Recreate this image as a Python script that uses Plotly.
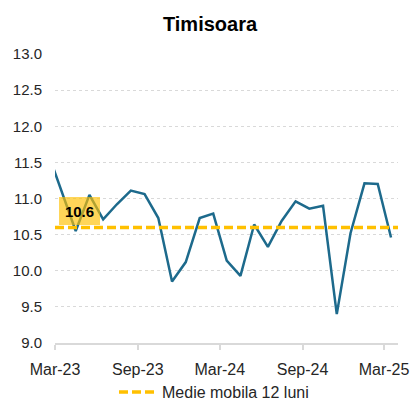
import pandas as pd
import plotly.graph_objects as go

# Monthly values, Feb-23 .. Mar-25
months = pd.period_range("2023-02", "2025-03", freq="M")
values = [11.60, 11.09, 10.55, 11.05, 10.71, 10.92, 11.11, 11.06, 10.73, 9.85,
          10.12, 10.73, 10.79, 10.14, 9.93, 10.64, 10.33, 10.69, 10.96, 10.86,
          10.90, 9.40, 10.52, 11.21, 11.20, 10.46]
ma_value = 10.6
ma_name = "Medie mobila 12 luni"
title = "Timisoara"
x_start, x_end = "2023-03-01", "2025-04-01"
y_ticks = [9.0, 9.5, 10.0, 10.5, 11.0, 11.5, 12.0, 12.5, 13.0]

# plot each month at its middle
starts = months.start_time
ends = months.end_time
mid = starts + (ends - starts) / 2

FONT = "Liberation Sans, Arial, sans-serif"
TEXT = "#262626"
GRID = "#D9D9D9"
BLUE = "#1D6A8C"
GOLD = "#FFC000"

fig = go.Figure()
fig.add_trace(go.Scatter(
    x=mid, y=values, mode="lines",
    line=dict(color=BLUE, width=2.5),
    showlegend=False, hoverinfo="x+y",
))

# 12-month moving average, drawn across the whole plot
fig.add_shape(
    type="line", xref="paper", x0=0, x1=1, yref="y", y0=ma_value, y1=ma_value,
    line=dict(color=GOLD, width=3.5, dash="9px,4px"),
    layer="above", showlegend=True, name=ma_name,
)

fig.add_annotation(
    x=mid[2], y=ma_value, xref="x", yref="y",
    text=f"<b>{ma_value:.1f}</b>", showarrow=False,
    xanchor="center", yanchor="bottom", xshift=4, yshift=2,
    width=41, height=28, borderpad=0, borderwidth=0,
    bgcolor="rgba(255,192,0,0.65)",
    font=dict(family=FONT, size=15, color="black"),
)

fig.update_layout(
    width=420, height=401,
    margin=dict(l=55, r=22, t=54, b=58, autoexpand=False),
    paper_bgcolor="white", plot_bgcolor="white",
    font=dict(family=FONT, color=TEXT),
    title=dict(
        text=f"<b>{title}</b>", x=0.5, xref="container", xanchor="center",
        y=1 - 24 / 401, yref="container", yanchor="middle",
        font=dict(family=FONT, size=20, color="black"),
    ),
    xaxis=dict(
        type="date", range=[x_start, x_end],
        tick0=x_start, dtick="M6", tickformat="%b-%y",
        ticks="outside", ticklen=5, tickcolor=GRID, tickwidth=1.5,
        showline=True, linecolor=GRID, linewidth=2,
        showgrid=False, zeroline=False,
        tickfont=dict(family=FONT, size=16, color=TEXT),
        ticklabelstandoff=6,
    ),
    yaxis=dict(
        range=[9, 13], tickvals=y_ticks,
        ticktext=[f"{v:.1f}" for v in y_ticks],
        showgrid=True, gridcolor=GRID, griddash="dot", gridwidth=1,
        showline=False, zeroline=False, ticks="",
        tickfont=dict(family=FONT, size=15, color=TEXT),
        ticklabelstandoff=12,
    ),
    legend=dict(
        orientation="h", xref="container", yref="paper",
        x=114 / 420, xanchor="left", y=(343 - 392) / 289, yanchor="middle",
        font=dict(family=FONT, size=16, color=TEXT),
        itemwidth=38, bgcolor="rgba(0,0,0,0)",
    ),
)

fig.write_html("out.html")
